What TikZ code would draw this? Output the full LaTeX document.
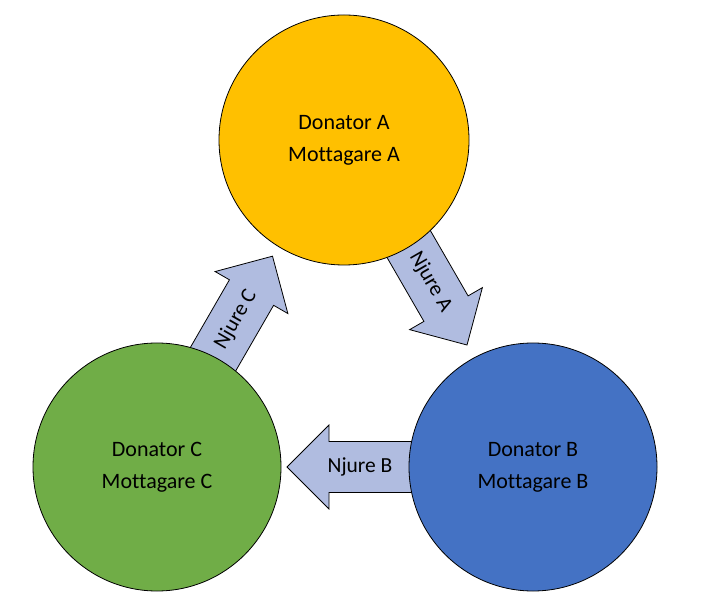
\documentclass[tikz,border=0pt]{standalone}
\usepackage{fontspec}
\setmainfont{Carlito}[Ligatures=NoCommon]
\definecolor{donA}{HTML}{FFC000}
\definecolor{donB}{HTML}{4472C4}
\definecolor{donC}{HTML}{70AD47}
\definecolor{kidney}{RGB}{176,188,224}
\tikzset{
  party/.style={circle, draw=black, line width=0.8pt, minimum size=#1, inner sep=0pt,
    align=center, font=\fontsize{22}{32}\selectfont},
  organbody/.style={draw=black, line width=0.8pt, fill=kidney, line join=miter},
  organtext/.style={inner sep=0pt, font=\fontsize{21.5}{25}\selectfont}
}
\begin{document}
\begin{tikzpicture}[x=1pt,y=1pt]
\useasboundingbox (0,0) rectangle (708,613);
% kidney arrows first, circles drawn on top
\begin{scope}[shift={(430.5,331.2)}, rotate=-60]
  \draw[organbody] (-73,-25.5) -- (31,-25.5) -- (31,-42) -- (73,0) -- (31,42) -- (31,25.5) -- (-73,25.5) -- cycle;
  \node[organtext, transform shape] (njA) at (0,0) {Njure A};
\end{scope}
\begin{scope}[shift={(360,146)}, rotate=180]
  \draw[organbody] (-73,-25.5) -- (31,-25.5) -- (31,-42) -- (73,0) -- (31,42) -- (31,25.5) -- (-73,25.5) -- cycle;
\end{scope}
\node[organtext] (njB) at (360,146) {Njure B};
\begin{scope}[shift={(236,293.6)}, rotate=60]
  \draw[organbody] (-73,-25.5) -- (31,-25.5) -- (31,-42) -- (73,0) -- (31,42) -- (31,25.5) -- (-73,25.5) -- cycle;
  \node[organtext, transform shape] (njC) at (0,0) {Njure C};
\end{scope}
% parties
\node[party=250pt, fill=donA] (A) at (344,473) {Donator A\\Mottagare A};
\node[party=248pt, fill=donB] (B) at (533,146) {Donator B\\Mottagare B};
\node[party=248pt, fill=donC] (C) at (157,146) {Donator C\\Mottagare C};
\end{tikzpicture}
\end{document}
